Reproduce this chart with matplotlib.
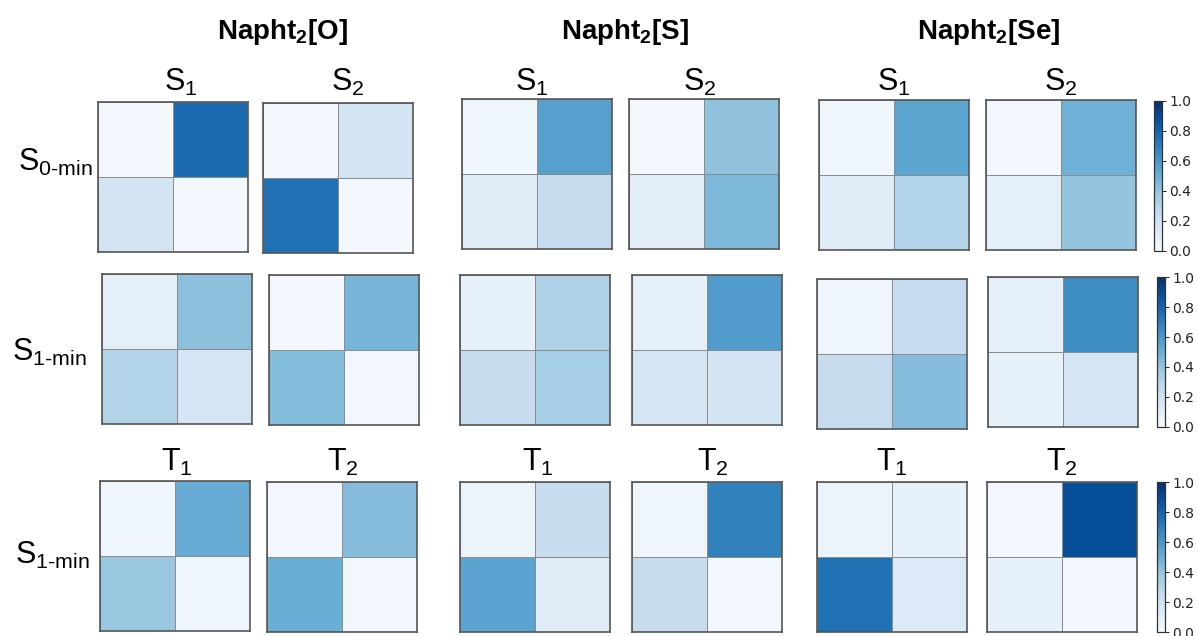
import numpy as np
import matplotlib
matplotlib.use("Agg")
import matplotlib.pyplot as plt

plt.rcParams['font.family'] = ['Liberation Sans', 'DejaVu Sans']
plt.rcParams['mathtext.fontset'] = 'custom'
plt.rcParams['mathtext.rm'] = 'Liberation Sans'
plt.rcParams['mathtext.it'] = 'Liberation Sans:italic'
plt.rcParams['mathtext.bf'] = 'Liberation Sans:bold'

# ---------- data: 2x2 matrices, [row][col] ----------
molecules = ["O", "S", "Se"]
row_labels = [r"S$_{\mathrm{0\text{-}min}}$", r"S$_{\mathrm{1\text{-}min}}$", r"S$_{\mathrm{1\text{-}min}}$"]
col_labels = [["S$_1$", "S$_2$"], None, ["T$_1$", "T$_2$"]]

# row 0: S0-min vs S1 / S2
o_s0 = [[[0.02, 0.78], [0.18, 0.02]], [[0.02, 0.18], [0.75, 0.02]]]
s_s0 = [[[0.04, 0.56], [0.12, 0.24]], [[0.03, 0.41], [0.10, 0.45]]]
se_s0 = [[[0.04, 0.54], [0.12, 0.31]], [[0.03, 0.49], [0.09, 0.40]]]
# row 1: S1-min vs S1 / S2
o_s1 = [[[0.09, 0.42], [0.31, 0.17]], [[0.03, 0.47], [0.44, 0.03]]]
s_s1 = [[[0.08, 0.32], [0.24, 0.35]], [[0.09, 0.58], [0.17, 0.18]]]
se_s1 = [[[0.05, 0.25], [0.24, 0.43]], [[0.09, 0.64], [0.08, 0.17]]]
# row 2: S1-min vs T1 / T2
o_t = [[[0.05, 0.51], [0.39, 0.05]], [[0.03, 0.43], [0.50, 0.03]]]
s_t = [[[0.06, 0.24], [0.55, 0.12]], [[0.05, 0.69], [0.24, 0.03]]]
se_t = [[[0.06, 0.08], [0.75, 0.14]], [[0.03, 0.88], [0.08, 0.02]]]

grid = [[o_s0, s_s0, se_s0], [o_s1, s_s1, se_s1], [o_t, s_t, se_t]]

W, H = 1198, 636
fig = plt.figure(figsize=(W / 100, H / 100), dpi=100)

# panel left / top edges in pixels, row by row (6 panels each)
panel_x = [[98, 263, 462, 629, 819, 986],
           [102, 269, 460, 632, 817, 988],
           [100, 267, 460, 632, 817, 987]]
panel_y = [[102, 103, 99, 99, 100, 100],
           [274, 275, 275, 275, 279, 277],
           [481, 482, 482, 482, 482, 482]]
size = 150
cbar_x = [1154, 1157, 1157]
cbar_y = [101, 277, 482]


def px_axes(x, y, w, h):
    return fig.add_axes([x / W, 1 - (y + h) / H, w / W, h / H])


for r in range(3):
    mesh = None
    for m in range(3):
        for k in range(2):
            i = m * 2 + k
            ax = px_axes(panel_x[r][i], panel_y[r][i], size, size)
            vals = np.array(grid[r][m][k])
            mesh = ax.pcolormesh(vals, cmap="Blues", vmin=0, vmax=1,
                                 edgecolors="#8c8c8c", linewidth=0.5)
            ax.set_xlim(0, 2)
            ax.set_ylim(2, 0)
            ax.set_xticks([])
            ax.set_yticks([])
            for sp in ax.spines.values():
                sp.set_color("#555555")
                sp.set_linewidth(1.2)
    cax = px_axes(cbar_x[r], cbar_y[r], 8, size)
    cb = fig.colorbar(mesh, cax=cax, ticks=[0, 0.2, 0.4, 0.6, 0.8, 1.0])
    cb.outline.set_edgecolor("#333333")
    cb.outline.set_linewidth(0.9)
    cax.tick_params(labelsize=10, length=3, width=0.7, pad=2,
                    labelfontfamily="DejaVu Sans", colors="#222222")
    cax.set_yticklabels(["0.0", "0.2", "0.4", "0.6", "0.8", "1.0"])

# molecule headers
title_x = [283, 625, 989]
for m, name in enumerate(molecules):
    fig.text(title_x[m] / W, 1 - 32 / H, r"Napht$_\mathbf{2}$[" + name + "]",
             ha="center", va="center", fontsize=20, fontweight="bold")

# state labels above the panels
sub_x = [[181, 348, 532, 700, 894, 1061],
         None,
         [177, 343, 538, 713, 892, 1062]]
sub_y = [82, None, 462]
for r in (0, 2):
    for i in range(6):
        fig.text(sub_x[r][i] / W, 1 - sub_y[r] / H, col_labels[r][i % 2],
                 ha="center", va="center", fontsize=22)

# row labels
lab_x = [18, 12, 15]
lab_y = [162, 352, 555]
for r in range(3):
    fig.text(lab_x[r] / W, 1 - lab_y[r] / H, row_labels[r],
             ha="left", va="center", fontsize=22)

fig.savefig("out.png", dpi=100)
